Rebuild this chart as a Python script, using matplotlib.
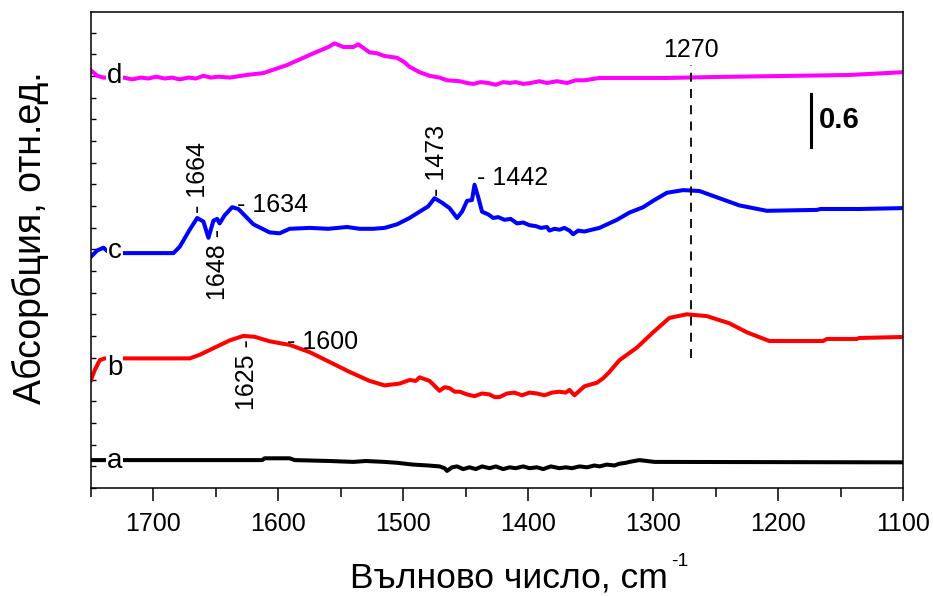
import numpy as np
import matplotlib
matplotlib.use("Agg")
from matplotlib import pyplot as plt
from matplotlib.ticker import MultipleLocator

plt.rcParams['font.family'] = ['Liberation Sans', 'DejaVu Sans']

# spectrum a (black)
wn_a = [1750, 1613, 1611, 1591, 1587, 1559, 1540, 1530, 1515, 1505, 1492, 1480,
        1471, 1467, 1465, 1461, 1457, 1452, 1447, 1442, 1437, 1431, 1426, 1420,
        1415, 1410, 1404, 1399, 1393, 1388, 1382, 1375, 1370, 1365, 1359, 1353,
        1347, 1343, 1337, 1331, 1327, 1322, 1319, 1315, 1311, 1305, 1299, 1100]
ab_a = [0.31, 0.31, 0.33, 0.33, 0.31, 0.30, 0.29, 0.30, 0.29, 0.28, 0.26, 0.25,
        0.24, 0.22, 0.19, 0.23, 0.24, 0.21, 0.23, 0.21, 0.24, 0.22, 0.24, 0.21,
        0.23, 0.22, 0.24, 0.22, 0.23, 0.21, 0.24, 0.22, 0.23, 0.22, 0.24, 0.23,
        0.25, 0.24, 0.26, 0.25, 0.27, 0.28, 0.29, 0.30, 0.31, 0.30, 0.29, 0.285]

# spectrum b (red)
wn_b = [1750, 1747, 1743, 1739, 1671, 1663, 1651, 1639, 1628, 1619, 1607, 1591,
        1575, 1559, 1543, 1527, 1515, 1503, 1495, 1490, 1487, 1479, 1471, 1467,
        1463, 1459, 1455, 1449, 1443, 1437, 1431, 1427, 1423, 1417, 1411, 1405,
        1399, 1393, 1387, 1381, 1375, 1370, 1367, 1363, 1355, 1345, 1340, 1335,
        1327, 1313, 1300, 1287, 1273, 1257, 1239, 1225, 1207, 1164, 1161, 1137,
        1135, 1100]
ab_b = [1.20, 1.31, 1.42, 1.44, 1.44, 1.48, 1.56, 1.64, 1.69, 1.68, 1.63, 1.59,
        1.51, 1.40, 1.29, 1.19, 1.14, 1.16, 1.20, 1.19, 1.23, 1.19, 1.08, 1.12,
        1.11, 1.07, 1.07, 1.04, 1.02, 1.05, 1.04, 1.01, 1.01, 1.05, 1.06, 1.03,
        1.06, 1.05, 1.03, 1.06, 1.07, 1.06, 1.09, 1.03, 1.13, 1.17, 1.22, 1.29,
        1.42, 1.56, 1.73, 1.89, 1.93, 1.91, 1.83, 1.73, 1.633, 1.633, 1.656, 1.656,
        1.667, 1.678]

# spectrum c (blue)
wn_c = [1750, 1745, 1740, 1735, 1684, 1679, 1671, 1665, 1660, 1656, 1652, 1649,
        1647, 1643, 1637, 1632, 1620, 1607, 1599, 1591, 1575, 1560, 1545, 1535,
        1524, 1515, 1505, 1495, 1487, 1480, 1475, 1469, 1463, 1457, 1453, 1449,
        1445, 1443, 1440, 1437, 1432, 1428, 1424, 1419, 1414, 1409, 1404, 1399,
        1394, 1390, 1385, 1383, 1379, 1375, 1371, 1367, 1364, 1360, 1355, 1343,
        1329, 1319, 1308, 1299, 1289, 1276, 1263, 1249, 1231, 1209, 1169, 1166,
        1135, 1100]
ab_c = [2.57, 2.64, 2.67, 2.61, 2.61, 2.68, 2.87, 3.00, 2.96, 2.78, 2.97, 2.99,
        2.94, 3.03, 3.12, 3.10, 2.93, 2.84, 2.83, 2.88, 2.89, 2.88, 2.90, 2.88,
        2.88, 2.89, 2.93, 3.00, 3.07, 3.13, 3.22, 3.17, 3.11, 3.00, 3.07, 3.19,
        3.20, 3.37, 3.23, 3.07, 3.04, 3.00, 3.01, 2.98, 2.99, 2.94, 2.95, 2.92,
        2.91, 2.89, 2.90, 2.86, 2.88, 2.87, 2.89, 2.86, 2.82, 2.86, 2.85, 2.89,
        2.98, 3.06, 3.12, 3.20, 3.28, 3.31, 3.30, 3.23, 3.14, 3.08, 3.09, 3.10,
        3.10, 3.11]

# spectrum d (magenta)
wn_d = [1750, 1745, 1740, 1724, 1717, 1710, 1704, 1698, 1691, 1685, 1679, 1672,
        1666, 1660, 1654, 1648, 1639, 1625, 1612, 1593, 1572, 1560, 1555, 1548,
        1540, 1536, 1527, 1521, 1515, 1505, 1499, 1495, 1487, 1479, 1471, 1465,
        1455, 1449, 1444, 1438, 1432, 1426, 1420, 1415, 1410, 1404, 1398, 1391,
        1385, 1377, 1369, 1362, 1355, 1343, 1289, 1249, 1143, 1100]
ab_d = [4.64, 4.58, 4.56, 4.56, 4.54, 4.56, 4.55, 4.57, 4.55, 4.56, 4.54, 4.56,
        4.55, 4.58, 4.56, 4.57, 4.56, 4.59, 4.61, 4.70, 4.83, 4.90, 4.94, 4.90,
        4.90, 4.93, 4.84, 4.83, 4.80, 4.78, 4.73, 4.68, 4.62, 4.58, 4.56, 4.53,
        4.52, 4.50, 4.49, 4.51, 4.50, 4.48, 4.51, 4.50, 4.51, 4.49, 4.50, 4.52,
        4.50, 4.52, 4.50, 4.53, 4.53, 4.556, 4.556, 4.567, 4.589, 4.62]

series = [(wn_a, ab_a, 'black', 'a', 0.222),
          (wn_b, ab_b, 'red', 'b', 1.256),
          (wn_c, ab_c, 'blue', 'c', 2.556),
          (wn_d, ab_d, 'magenta', 'd', 4.50)]

# peak labels: text, x, y, rotation, ha, va
peaks = [('- 1664', 1664, 3.06, 90, 'center', 'bottom'),
         ('1648 -', 1648, 2.88, 90, 'center', 'top'),
         ('- 1634', 1633, 3.14, 0, 'left', 'center'),
         ('- 1473', 1473, 3.24, 90, 'center', 'bottom'),
         ('- 1442', 1441, 3.44, 0, 'left', 'center'),
         ('1625 -', 1625, 1.65, 90, 'center', 'top'),
         ('- 1600', 1593, 1.62, 0, 'left', 'center')]

fig = plt.figure(figsize=(9.33, 5.96), dpi=100)
ax = fig.add_axes([91 / 933, 1 - 488 / 596, 812 / 933, 476 / 596])

for wn, ab, col, name, ly in series:
    ax.plot(wn, ab, color=col, lw=2.9, solid_joinstyle='round')
    ax.text(1731, ly, name, fontsize=20, ha='center', va='baseline',
            bbox=dict(facecolor='white', edgecolor='none', pad=0.5))

for txt, x, y, rot, ha, va in peaks:
    ax.text(x, y, txt, fontsize=18, rotation=rot, ha=ha, va=va)

# marker line at 1270
ax.plot([1270, 1270], [1.44, 4.70], color='black', lw=1.3, ls=(0, (5, 4)))
ax.text(1270, 4.87, '1270', fontsize=18, ha='center', va='center')

# scale bar
ax.plot([1174, 1174], [3.79, 4.38], color='black', lw=2.2)
ax.text(1167, 4.09, '0.6', fontsize=21, fontweight='bold', ha='left', va='center')

ax.set_xlim(1750, 1100)
ax.set_ylim(0, 476 / 90)
ax.xaxis.set_major_locator(MultipleLocator(100))
ax.xaxis.set_minor_locator(MultipleLocator(50))
ax.set_yticks(np.arange(0, 5.3, 0.241))
ax.set_yticklabels([])
ax.tick_params(axis='x', which='major', direction='out', length=9.5, width=1.1,
               labelsize=18, pad=8)
ax.tick_params(axis='x', which='minor', direction='out', length=6.5, width=1.1)
ax.tick_params(axis='y', direction='in', length=3.5, width=1.0)
for s in ax.spines.values():
    s.set_linewidth(1.1)

# x label with a hyphen superscript
fig.text(668 / 933, 1 - 587 / 596, 'Вълново число, cm', fontsize=25.5,
         ha='right', va='baseline')
fig.text(671 / 933, 1 - 566 / 596, '-1', fontsize=14, ha='left', va='baseline')

ax.set_ylabel('Абсорбция, отн.ед.', fontsize=27)
ax.yaxis.set_label_coords(-0.052, 0.525)

fig.savefig('out.png', dpi=100)
